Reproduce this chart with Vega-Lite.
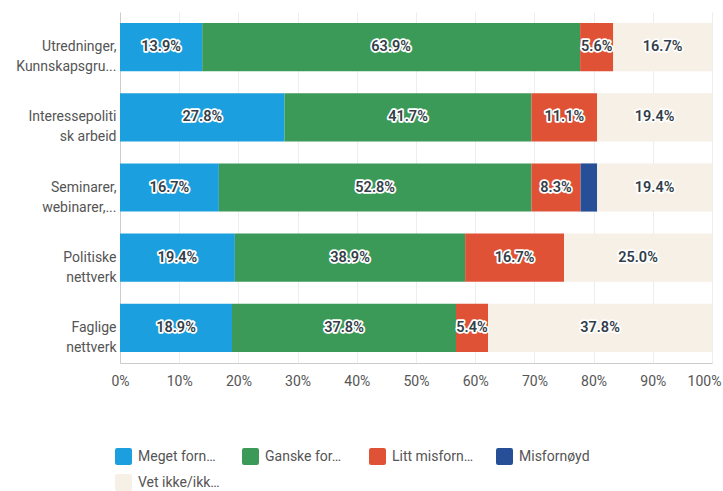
{
  "$schema": "https://vega.github.io/schema/vega-lite/v6.json",
  "width": 592,
  "height": 351,
  "autosize": {"type": "none"},
  "padding": {"left": 120, "top": 12, "right": 11, "bottom": 128},
  "background": "white",
  "config": {"view": {"stroke": null}, "font": "Roboto"},
  "data": {
    "values": [
      {"tema": "Utredninger,|Kunnskapsgru...", "svar": "Meget fornøyd", "value": 13.9},
      {"tema": "Utredninger,|Kunnskapsgru...", "svar": "Ganske fornøyd", "value": 63.9},
      {"tema": "Utredninger,|Kunnskapsgru...", "svar": "Litt misfornøyd", "value": 5.6},
      {"tema": "Utredninger,|Kunnskapsgru...", "svar": "Vet ikke/ikke relevant", "value": 16.7},
      {"tema": "Interessepoliti|sk arbeid", "svar": "Meget fornøyd", "value": 27.8},
      {"tema": "Interessepoliti|sk arbeid", "svar": "Ganske fornøyd", "value": 41.7},
      {"tema": "Interessepoliti|sk arbeid", "svar": "Litt misfornøyd", "value": 11.1},
      {"tema": "Interessepoliti|sk arbeid", "svar": "Vet ikke/ikke relevant", "value": 19.4},
      {"tema": "Seminarer,|webinarer,...", "svar": "Meget fornøyd", "value": 16.7},
      {"tema": "Seminarer,|webinarer,...", "svar": "Ganske fornøyd", "value": 52.8},
      {"tema": "Seminarer,|webinarer,...", "svar": "Litt misfornøyd", "value": 8.3},
      {"tema": "Seminarer,|webinarer,...", "svar": "Misfornøyd", "value": 2.8},
      {"tema": "Seminarer,|webinarer,...", "svar": "Vet ikke/ikke relevant", "value": 19.4},
      {"tema": "Politiske|nettverk", "svar": "Meget fornøyd", "value": 19.4},
      {"tema": "Politiske|nettverk", "svar": "Ganske fornøyd", "value": 38.9},
      {"tema": "Politiske|nettverk", "svar": "Litt misfornøyd", "value": 16.7},
      {"tema": "Politiske|nettverk", "svar": "Vet ikke/ikke relevant", "value": 25.0},
      {"tema": "Faglige|nettverk", "svar": "Meget fornøyd", "value": 18.9},
      {"tema": "Faglige|nettverk", "svar": "Ganske fornøyd", "value": 37.8},
      {"tema": "Faglige|nettverk", "svar": "Litt misfornøyd", "value": 5.4},
      {"tema": "Faglige|nettverk", "svar": "Vet ikke/ikke relevant", "value": 37.8}
    ]
  },
  "transform": [
    {"calculate": "indexof(['Meget fornøyd','Ganske fornøyd','Litt misfornøyd','Misfornøyd','Vet ikke/ikke relevant'], datum.svar)", "as": "k"},
    {"stack": "value", "groupby": ["tema"], "sort": [{"field": "k"}], "offset": "normalize", "as": ["x0", "x1"]},
    {"calculate": "(datum.x0 + datum.x1) / 2", "as": "xm"}
  ],
  "encoding": {
    "y": {
      "field": "tema",
      "type": "nominal",
      "sort": ["Utredninger,|Kunnskapsgru...", "Interessepoliti|sk arbeid", "Seminarer,|webinarer,...", "Politiske|nettverk", "Faglige|nettverk"],
      "scale": {"paddingInner": 0.314, "paddingOuter": 0.157},
      "axis": {
        "title": null,
        "labelExpr": "split(datum.label, '|')",
        "labelFontSize": 14,
        "labelColor": "#555555",
        "labelLineHeight": 20,
        "labelPadding": 4,
        "ticks": false,
        "domainColor": "#cccccc",
        "labelLimit": 200
      }
    }
  },
  "layer": [
    {
      "mark": {"type": "bar"},
      "encoding": {
        "x": {
          "field": "x0",
          "type": "quantitative",
          "scale": {"domain": [0, 1]},
          "axis": {
            "title": null,
            "format": ".0%",
            "values": [0, 0.1, 0.2, 0.3, 0.4, 0.5, 0.6, 0.7, 0.8, 0.9, 1],
            "labelOverlap": false,
            "labelFontSize": 14,
            "labelColor": "#555555",
            "labelPadding": 11,
            "ticks": false,
            "gridColor": "#ededed",
            "domainColor": "#cccccc",
            "labelFlush": false,
            "labelOffset": {"condition": {"test": "datum.value === 1", "value": -8}, "value": 0}
          }
        },
        "x2": {"field": "x1"},
        "color": {
          "field": "svar",
          "type": "nominal",
          "scale": {
            "domain": ["Meget fornøyd", "Ganske fornøyd", "Litt misfornøyd", "Misfornøyd", "Vet ikke/ikke relevant"],
            "range": ["#1b9fde", "#3c9a58", "#e05236", "#274f97", "#f6f0e6"]
          },
          "legend": {
            "title": null,
            "orient": "none",
            "legendX": -5,
            "legendY": 436,
            "direction": "horizontal",
            "columns": 4,
            "gridAlign": "all",
            "columnPadding": 22,
            "rowPadding": 9,
            "symbolType": "M -0.75,-1 L 0.75,-1 Q 1,-1 1,-0.75 L 1,0.75 Q 1,1 0.75,1 L -0.75,1 Q -1,1 -1,0.75 L -1,-0.75 Q -1,-1 -0.75,-1 Z",
            "symbolSize": 289,
            "symbolStrokeWidth": 0,
            "symbolOpacity": 1,
            "labelFontSize": 14,
            "labelColor": "#555555",
            "labelLimit": 82,
            "labelOffset": 6
          }
        }
      }
    },
    {
      "transform": [
        {"filter": "datum.value >= 5"},
        {"calculate": "format(datum.value, '.1f') + '%'", "as": "lbl"}
      ],
      "mark": {"type": "text", "fontSize": 14.5, "fontWeight": 600, "stroke": "white", "strokeWidth": 3.5, "strokeJoin": "round", "fill": "white"},
      "encoding": {
        "x": {"field": "xm", "type": "quantitative"},
        "text": {"field": "lbl"}
      }
    },
    {
      "transform": [
        {"filter": "datum.value >= 5"},
        {"calculate": "format(datum.value, '.1f') + '%'", "as": "lbl"}
      ],
      "mark": {"type": "text", "fontSize": 14.5, "fontWeight": 600, "fill": "#333e48"},
      "encoding": {
        "x": {"field": "xm", "type": "quantitative"},
        "text": {"field": "lbl"}
      }
    }
  ]
}
